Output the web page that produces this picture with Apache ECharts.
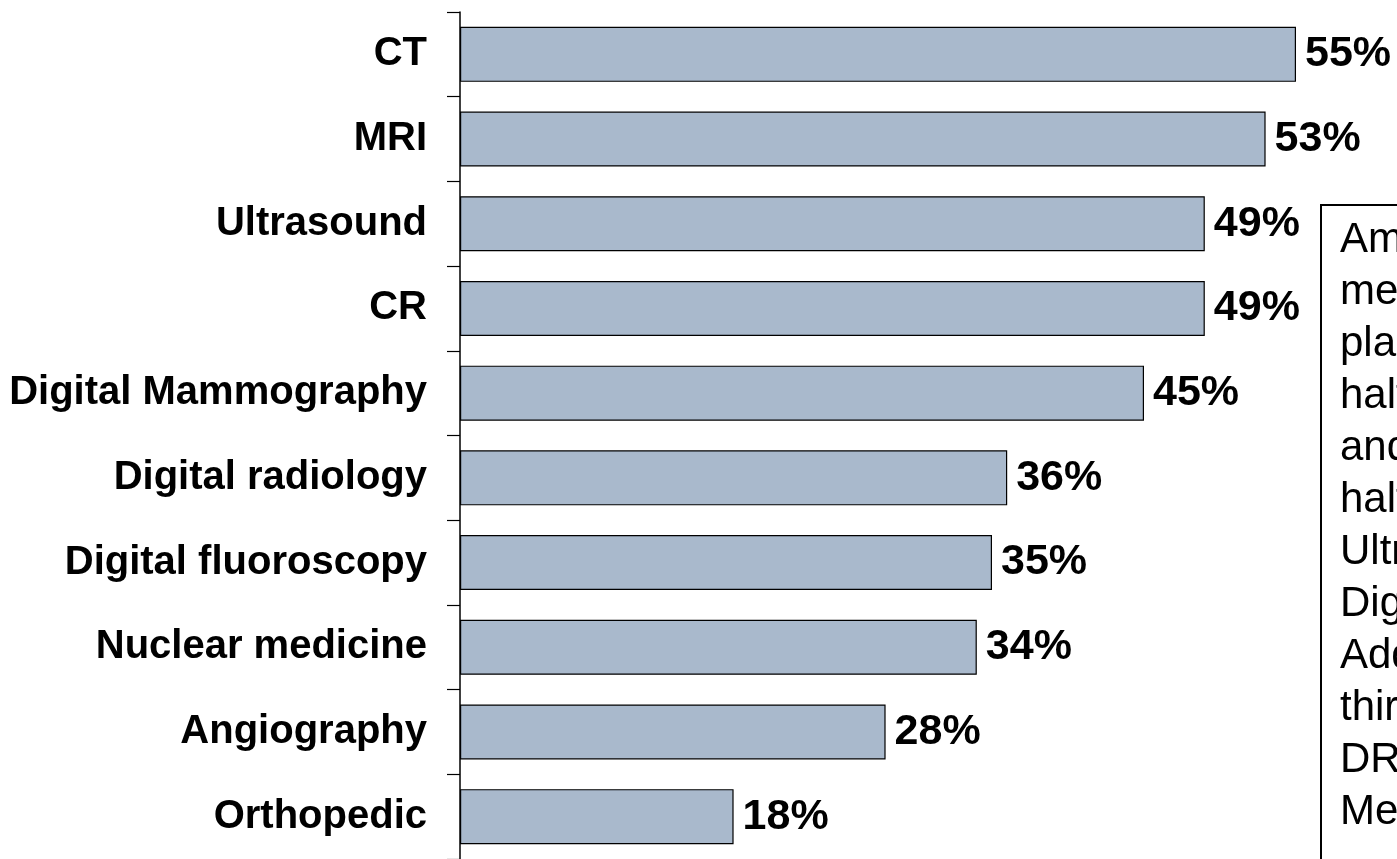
<!DOCTYPE html>
<html>
<head>
<meta charset="utf-8">
<script src="https://cdn.jsdelivr.net/npm/echarts@6/dist/echarts.min.js"></script>
<style>
  html, body { margin: 0; padding: 0; background: #ffffff; }
  #chart { width: 1397px; height: 859px; }
</style>
</head>
<body>
<div id="chart"></div>
<script>
const categories = ['CT', 'MRI', 'Ultrasound', 'CR', 'Digital Mammography', 'Digital radiology', 'Digital fluoroscopy', 'Nuclear medicine', 'Angiography', 'Orthopedic'];
const values = [55, 53, 49, 49, 45, 36, 35, 34, 28, 18];
const boxLines = ['Among', 'medium', 'plans', 'half', 'and', 'half', 'Ultrasound', 'Digital', 'Additionally', 'third', 'DR', 'Medicine'];

const chart = echarts.init(document.getElementById('chart'));
chart.setOption({
  backgroundColor: '#ffffff',
  animation: false,
  grid: { left: 460, top: 12, width: 912, height: 850, containLabel: false },
  xAxis: { type: 'value', min: 0, max: 60, show: false },
  yAxis: {
    type: 'category',
    data: categories,
    inverse: true,
    axisLine: { show: true, lineStyle: { color: '#000000', width: 1.5 } },
    axisTick: { show: true, length: 13, lineStyle: { color: '#000000', width: 1.2 } },
    axisLabel: {
      margin: 33,
      color: '#000000',
      fontFamily: '"Liberation Sans", Arial, sans-serif',
      fontWeight: 'bold',
      fontSize: 40
    },
    splitLine: { show: false }
  },
  series: [{
    type: 'bar',
    data: values,
    barWidth: 55,
    itemStyle: { color: '#A9B9CC', borderColor: '#000000', borderWidth: 1.2 },
    label: {
      show: true,
      position: 'right',
      distance: 9,
      formatter: '{c}%',
      color: '#000000',
      fontFamily: '"Liberation Sans", Arial, sans-serif',
      fontWeight: 'bold',
      fontSize: 43
    }
  }],
  graphic: [{
    type: 'rect',
    shape: { x: 1321, y: 205, width: 300, height: 720 },
    style: { fill: '#ffffff', stroke: '#000000', lineWidth: 2 },
    z: 10
  }, {
    type: 'text',
    x: 1340,
    y: 214,
    style: {
      text: boxLines.join('\n'),
      font: '42px "Liberation Sans", Arial, sans-serif',
      fill: '#000000',
      lineHeight: 52,
      verticalAlign: 'top',
      align: 'left'
    },
    z: 11
  }]
});
</script>
</body>
</html>
